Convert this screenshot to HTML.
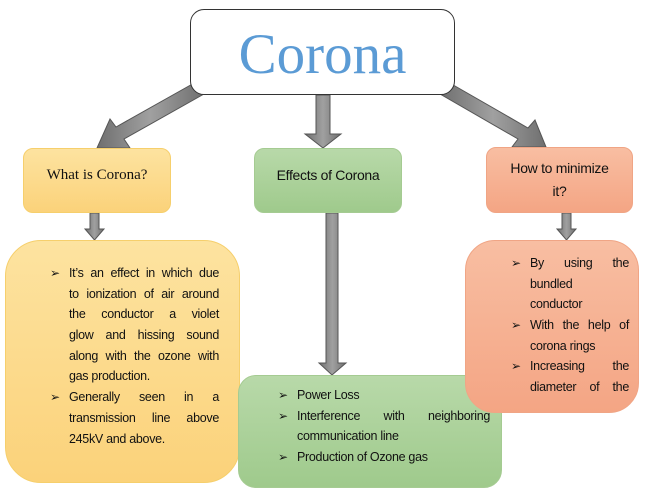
<!DOCTYPE html>
<html><head><meta charset="utf-8"><style>
html,body{margin:0;padding:0;background:#fff;}
body{width:646px;height:492px;position:relative;overflow:hidden;font-family:"Liberation Sans",sans-serif;color:#111;}
.b{position:absolute;box-sizing:border-box;}
.t{position:absolute;font-size:12.5px;letter-spacing:-0.3px;line-height:20.7px;}
.t div{position:relative;white-space:nowrap;height:20.7px;}
.j{text-align:justify;text-align-last:justify;}
.bl:before{content:"➢";position:absolute;left:-19px;font-size:12px;letter-spacing:0;}
</style></head><body>
<svg width="646" height="492" style="position:absolute;left:0;top:0">
<defs><linearGradient id="ag" x1="0" x2="1"><stop offset="0" stop-color="#6f6f6f"/><stop offset="0.5" stop-color="#a0a0a0"/><stop offset="1" stop-color="#6f6f6f"/></linearGradient></defs>
<g fill="url(#ag)" stroke="#555" stroke-width="1">
<polygon points="316,95 330,95 330,134 341,134 323,148 305,134 316,134"/>
<polygon points="196,82 204,94 124,139 130,148 97,148 110,119 116,127"/>
<polygon points="448,82 440,94 518,139 512,147 546,147 535,120 528,128"/>
<polygon points="90,213 99,213 99,229 104,229 94.5,240 85,229 90,229"/>
<polygon points="326,213 338,213 338,363 346,363 332,375 319,363 326,363"/>
<polygon points="562,213 571,213 571,229 576,229 566.5,240 557,229 562,229"/>
</g>
</svg>
<div class="b" style="left:190px;top:9px;width:265px;height:86px;border:1.5px solid #333;border-radius:14px;background:#fff;"></div>
<div class="b" style="left:190px;top:22px;width:265px;text-align:center;font-family:'Liberation Serif',serif;font-size:57px;color:#5b9bd5;">Corona</div>

<div class="b" style="left:23px;top:148px;width:148px;height:65px;border:1px solid #f6cf6c;border-radius:10px;background:linear-gradient(#fde3a0,#fbd27a);"></div>
<div class="b" style="left:23px;top:167px;width:148px;text-align:center;font-family:'Liberation Serif',serif;font-size:15px;">What is Corona?</div>

<div class="b" style="left:254px;top:148px;width:148px;height:65px;border:1px solid #a5cb92;border-radius:10px;background:linear-gradient(#b8d9a9,#9fca8c);"></div>
<div class="b" style="left:254px;top:167px;width:148px;text-align:center;font-size:14px;letter-spacing:-0.3px;">Effects of Corona</div>

<div class="b" style="left:486px;top:147px;width:147px;height:66px;border:1px solid #f0a585;border-radius:10px;background:linear-gradient(#f8bea2,#f4a584);"></div>
<div class="b" style="left:486px;top:157px;width:147px;text-align:center;font-size:14px;line-height:23px;letter-spacing:-0.3px;">How to minimize<br>it?</div>

<div class="b" style="left:5px;top:240px;width:235px;height:243px;border:1px solid #f6cf6c;border-radius:36px;background:linear-gradient(#fde3a0,#fbd27a);"></div>
<div class="t" style="left:69px;top:263px;width:150px;">
<div class="j bl">It’s an effect in which due</div>
<div class="j">to ionization of air around</div>
<div class="j">the conductor a violet</div>
<div class="j">glow and hissing sound</div>
<div class="j">along with the ozone with</div>
<div>gas production.</div>
<div class="j bl">Generally seen in a</div>
<div class="j">transmission line above</div>
<div>245kV and above.</div>
</div>

<div class="b" style="left:238px;top:375px;width:264px;height:113px;border:1px solid #a5cb92;border-radius:18px;background:linear-gradient(#b8d9a9,#9fca8c);"></div>
<div class="t" style="left:297px;top:385px;width:193px;">
<div class="bl">Power Loss</div>
<div class="j bl">Interference with neighboring</div>
<div>communication line</div>
<div class="bl">Production of Ozone gas</div>
</div>

<div class="b" style="left:465px;top:240px;width:174px;height:173px;border:1px solid #f0a585;border-radius:30px;background:linear-gradient(#f8bea2,#f4a584);"></div>
<div class="t" style="left:530px;top:253px;width:99px;">
<div class="j bl">By using the</div>
<div>bundled</div>
<div>conductor</div>
<div class="j bl">With the help of</div>
<div>corona rings</div>
<div class="j bl">Increasing the</div>
<div class="j">diameter of the</div>
</div>
</body></html>
